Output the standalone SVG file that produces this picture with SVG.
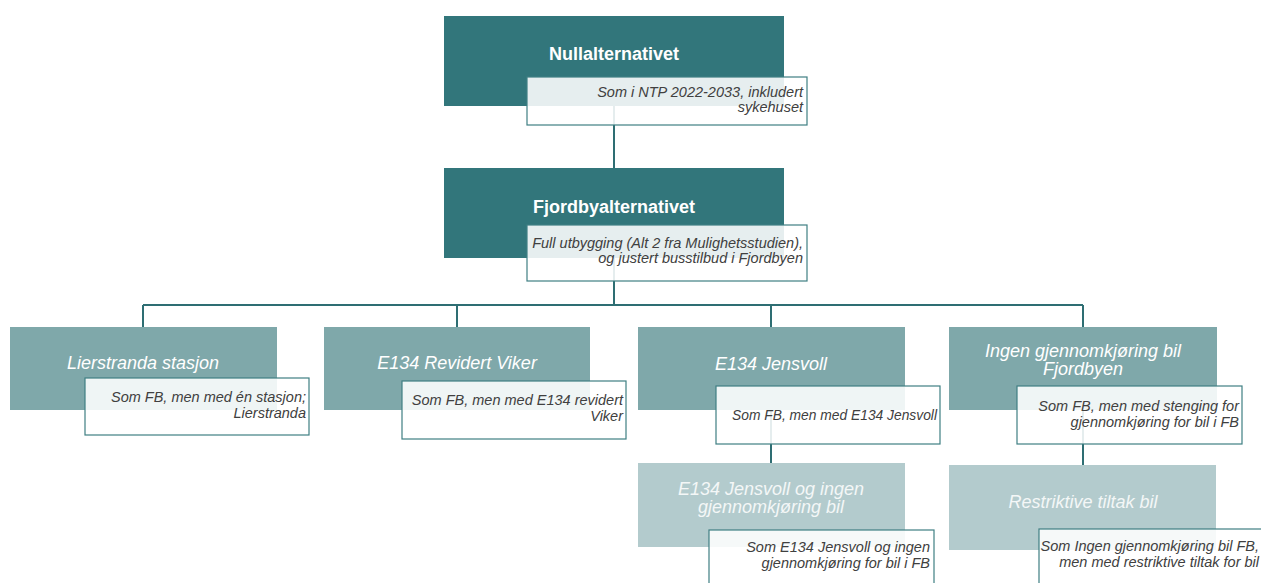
<svg xmlns="http://www.w3.org/2000/svg" width="1261" height="583" viewBox="0 0 1261 583">
<style>
.l0{fill:#32767b}
.l1{fill:#7fa8aa}
.l2{fill:#b3cbcd}
.tb{fill:#ffffff;fill-opacity:0.88;stroke:#3f7f83;stroke-width:1.2}
.con{fill:none;stroke:#2e6e73;stroke-width:2}
.t0{font-family:"Liberation Sans",Arial,sans-serif;font-size:18px;font-weight:bold;fill:#ffffff;text-anchor:middle}
.t1{font-family:"Liberation Sans",Arial,sans-serif;font-size:18px;font-style:italic;fill:#ffffff;text-anchor:middle}
.t2{font-family:"Liberation Sans",Arial,sans-serif;font-size:18px;font-style:italic;fill:#f4f7f7;text-anchor:middle}
.d{font-family:"Liberation Sans",Arial,sans-serif;font-size:14.5px;font-style:italic;fill:#404040;text-anchor:end}
</style>
<rect width="1261" height="583" fill="#ffffff"/>
<g id="connectors">
<path class="con" d="M614 106 V168"/>
<path class="con" d="M614 258 V305 M143 305 H1083 M143 305 V327 M457 305 V327 M771 305 V327 M1083 305 V327"/>
<path class="con" d="M771 410 V463"/>
<path class="con" d="M1083 410 V465"/>
</g>
<g id="nullalternativet">
<rect class="l0" x="444" y="16" width="340" height="90"/>
<text class="t0" x="614" y="60">Nullalternativet</text>
<rect class="tb" x="527" y="77" width="280" height="48"/>
<text class="d" x="803" y="97">Som i NTP 2022-2033, inkludert</text>
<text class="d" x="803" y="112">sykehuset</text>
</g>
<g id="fjordbyalternativet">
<rect class="l0" x="444" y="168" width="340" height="90"/>
<text class="t0" x="614" y="213">Fjordbyalternativet</text>
<rect class="tb" x="527" y="225" width="280" height="56"/>
<text class="d" x="803" y="248">Full utbygging (Alt 2 fra Mulighetsstudien),</text>
<text class="d" x="803" y="263">og justert busstilbud i Fjordbyen</text>
</g>
<g id="lierstranda">
<rect class="l1" x="10" y="327" width="267" height="83"/>
<text class="t1" x="143" y="369">Lierstranda stasjon</text>
<rect class="tb" x="85" y="378" width="224" height="57"/>
<text class="d" x="306" y="402">Som FB, men med én stasjon;</text>
<text class="d" x="306" y="418">Lierstranda</text>
</g>
<g id="viker">
<rect class="l1" x="324" y="327" width="266" height="83"/>
<text class="t1" x="457" y="369">E134 Revidert Viker</text>
<rect class="tb" x="402" y="381" width="224" height="58"/>
<text class="d" x="623" y="405">Som FB, men med E134 revidert</text>
<text class="d" x="623" y="421">Viker</text>
</g>
<g id="jensvoll">
<rect class="l1" x="638" y="327" width="267" height="83"/>
<text class="t1" x="771" y="370">E134 Jensvoll</text>
<rect class="tb" x="716" y="386" width="224" height="58"/>
<text class="d" x="937" y="420" textLength="205" lengthAdjust="spacingAndGlyphs">Som FB, men med E134 Jensvoll</text>
</g>
<g id="ingen">
<rect class="l1" x="949" y="327" width="268" height="83"/>
<text class="t1" x="1083" y="357">Ingen gjennomkjøring bil</text>
<text class="t1" x="1083" y="375">Fjordbyen</text>
<rect class="tb" x="1017" y="386" width="225" height="58"/>
<text class="d" x="1239" y="411">Som FB, men med stenging for</text>
<text class="d" x="1239" y="427">gjennomkjøring for bil i FB</text>
</g>
<g id="jensvoll-ingen">
<rect class="l2" x="638" y="463" width="267" height="84"/>
<text class="t2" x="771" y="495">E134 Jensvoll og ingen</text>
<text class="t2" x="771" y="513">gjennomkjøring bil</text>
<rect class="tb" x="709" y="530" width="225" height="60"/>
<text class="d" x="930" y="552">Som E134 Jensvoll og ingen</text>
<text class="d" x="930" y="568">gjennomkjøring for bil i FB</text>
</g>
<g id="restriktive">
<rect class="l2" x="949" y="465" width="267" height="85"/>
<text class="t2" x="1083" y="508">Restriktive tiltak bil</text>
<rect class="tb" x="1039" y="529" width="230" height="60"/>
<text class="d" x="1259" y="551">Som Ingen gjennomkjøring bil FB,</text>
<text class="d" x="1259" y="567">men med restriktive tiltak for bil</text>
</g>
</svg>
